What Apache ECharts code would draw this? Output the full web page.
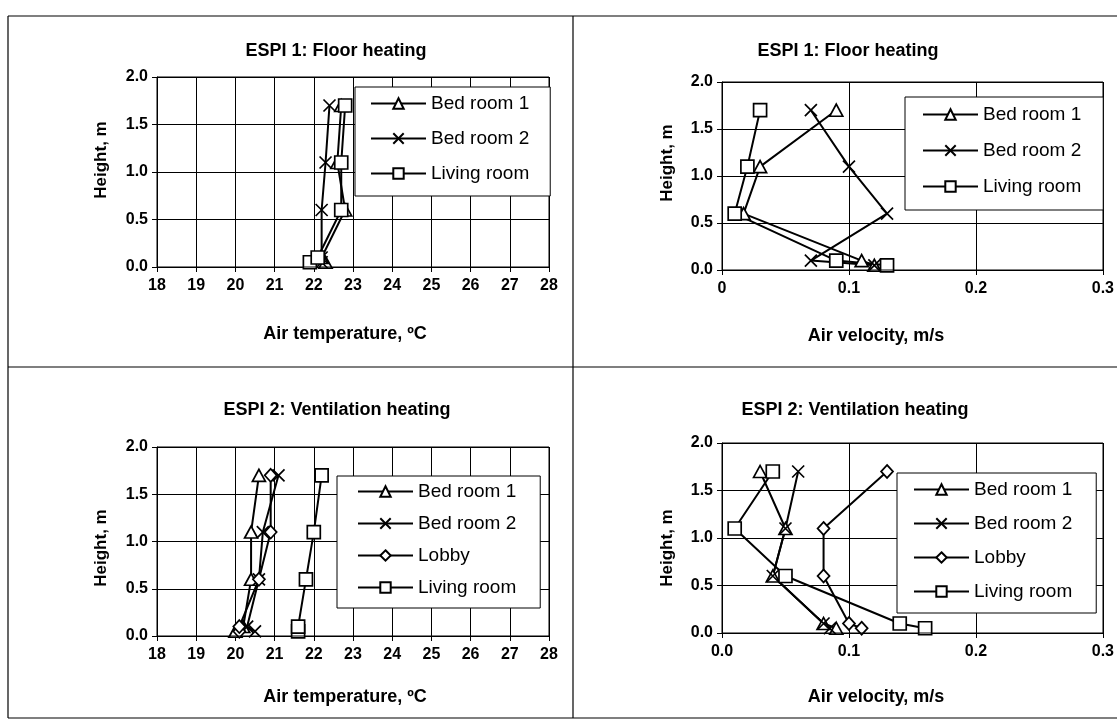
<!DOCTYPE html>
<html>
<head>
<meta charset="utf-8">
<script src="https://cdn.jsdelivr.net/npm/echarts@6/dist/echarts.min.js"></script>
<style>
html,body{margin:0;padding:0;background:#fff;}
#c{width:1117px;height:724px;}
</style>
</head>
<body>
<div id="c"></div>
<script>
// Heights (m) of measurement points
const heights = [0.05, 0.1, 0.6, 1.1, 1.7];

// ESPI 1: Floor heating, air temperature (°C)
const t1Bed1 = [22.3, 22.2, 22.8, 22.6, 22.7];
const t1Bed2 = [22.2, 22.2, 22.2, 22.3, 22.4];
const t1Living = [21.9, 22.1, 22.7, 22.7, 22.8];

// ESPI 1: Floor heating, air velocity (m/s)
const v1Bed1 = [0.12, 0.11, 0.017, 0.03, 0.09];
const v1Bed2 = [0.12, 0.07, 0.13, 0.10, 0.07];
const v1Living = [0.13, 0.09, 0.01, 0.02, 0.03];

// ESPI 2: Ventilation heating, air temperature (°C)
const t2Bed1 = [20.0, 20.2, 20.4, 20.4, 20.6];
const t2Bed2 = [20.5, 20.3, 20.6, 20.7, 21.1];
const t2Lobby = [20.1, 20.1, 20.6, 20.9, 20.9];
const t2Living = [21.6, 21.6, 21.8, 22.0, 22.2];

// ESPI 2: Ventilation heating, air velocity (m/s)
const v2Bed1 = [0.09, 0.08, 0.04, 0.05, 0.03];
const v2Bed2 = [0.085, 0.08, 0.04, 0.05, 0.06];
const v2Lobby = [0.11, 0.10, 0.08, 0.08, 0.13];
const v2Living = [0.16, 0.14, 0.05, 0.01, 0.04];

const titles = ['ESPI 1: Floor heating', 'ESPI 1: Floor heating', 'ESPI 2: Ventilation heating', 'ESPI 2: Ventilation heating'];
const xNames = ['Air temperature, \u00baC', 'Air velocity, m/s', 'Air temperature, \u00baC', 'Air velocity, m/s'];
const yName = 'Height, m';

const FONT = '"Liberation Sans", Arial, sans-serif';
const crossPath = 'path://M0,0L10,10M10,0L0,10';
const symbols = {
  'Bed room 1': 'triangle',
  'Bed room 2': crossPath,
  'Lobby': 'diamond',
  'Living room': 'rect'
};
const symSize = {
  'Bed room 1': [13, 12],
  'Bed room 2': [12, 12],
  'Lobby': [12, 13],
  'Living room': [13, 13]
};

const panels = [
  {series: [['Bed room 1', t1Bed1], ['Bed room 2', t1Bed2], ['Living room', t1Living]]},
  {series: [['Bed room 1', v1Bed1], ['Bed room 2', v1Bed2], ['Living room', v1Living]]},
  {series: [['Bed room 1', t2Bed1], ['Bed room 2', t2Bed2], ['Lobby', t2Lobby], ['Living room', t2Living]]},
  {series: [['Bed room 1', v2Bed1], ['Bed room 2', v2Bed2], ['Lobby', v2Lobby], ['Living room', v2Living]]}
];

const grids = [
  {left: 157, top: 77, width: 392, height: 190},
  {left: 722, top: 82, width: 381, height: 188},
  {left: 157, top: 447, width: 392, height: 189},
  {left: 722, top: 443, width: 381, height: 190}
];

const xAxisCfg = [
  {min: 18, max: 28, interval: 1, fmt: v => String(v)},
  {min: 0, max: 0.3, interval: 0.1, fmt: v => (v === 0 ? '0' : v.toFixed(1))},
  {min: 18, max: 28, interval: 1, fmt: v => String(v)},
  {min: 0, max: 0.3, interval: 0.1, fmt: v => v.toFixed(1)}
];

const legendPos = [
  {left: 355, top: 87, pad: [7, 21, 13, 15], gap: 16},
  {left: 905, top: 97, pad: [8, 22, 14, 17], gap: 17},
  {left: 337, top: 476, pad: [6, 24, 11, 20], gap: 13},
  {left: 897, top: 473, pad: [7, 24, 12, 16], gap: 15}
];

const titlePos = [
  {x: 336, y: 42}, {x: 848, y: 42}, {x: 337, y: 401}, {x: 855, y: 401}
];
const xNamePos = [
  {x: 345, y: 334}, {x: 876, y: 336}, {x: 345, y: 697}, {x: 876, y: 697}
];
const yNamePos = [
  {x: 101, y: 160}, {x: 667, y: 163}, {x: 101, y: 548}, {x: 667, y: 548}
];

const option = {
  animation: false,
  backgroundColor: '#fff',
  textStyle: {fontFamily: FONT, color: '#000'},
  title: [],
  grid: [],
  xAxis: [],
  yAxis: [],
  legend: [],
  series: [],
  graphic: []
};

panels.forEach((p, i) => {
  const g = grids[i];
  option.grid.push(Object.assign({containLabel: false, show: false}, g));
  const xc = xAxisCfg[i];
  option.xAxis.push({
    type: 'value', gridIndex: i, min: xc.min, max: xc.max, interval: xc.interval,
    axisLine: {show: true, lineStyle: {color: '#000', width: 1}},
    axisTick: {show: true, inside: false, length: 5, lineStyle: {color: '#000'}},
    axisLabel: {fontFamily: FONT, fontSize: 16, fontWeight: 'bold', color: '#000', margin: 11, formatter: xc.fmt, showMaxLabel: true},
    splitLine: {show: true, lineStyle: {color: '#000', width: 1}}
  });
  option.yAxis.push({
    type: 'value', gridIndex: i, min: 0, max: 2, interval: 0.5,
    axisLine: {show: true, lineStyle: {color: '#000', width: 1}},
    axisTick: {show: true, inside: false, length: 5, lineStyle: {color: '#000'}},
    axisLabel: {fontFamily: FONT, fontSize: 16, fontWeight: 'bold', color: '#000', margin: 9, formatter: v => v.toFixed(1)},
    splitLine: {show: true, lineStyle: {color: '#000', width: 1}}
  });
  option.graphic.push({
    type: 'rect', shape: {x: g.left, y: g.top, width: g.width, height: g.height},
    style: {fill: 'none', stroke: '#000', lineWidth: 1}, silent: true, z: 5
  });
  const tp = titlePos[i];
  option.title.push({
    text: titles[i], left: tp.x, top: tp.y, textAlign: 'center',
    padding: 0,
    textStyle: {fontFamily: FONT, fontWeight: 'bold', fontSize: 18, color: '#000'}
  });
  const xn = xNamePos[i];
  option.graphic.push({
    type: 'text', x: xn.x, y: xn.y, silent: true,
    style: {text: xNames[i], align: 'center', verticalAlign: 'middle',
      font: 'bold 18px ' + FONT, fill: '#000'}
  });
  const yn = yNamePos[i];
  option.graphic.push({
    type: 'text', x: yn.x, y: yn.y, rotation: Math.PI / 2, silent: true,
    style: {text: yName, align: 'center', verticalAlign: 'middle',
      font: 'bold 17px ' + FONT, fill: '#000'}
  });
  const names = [];
  p.series.forEach(([name, vals]) => {
    const id = 'p' + i + '_' + name;
    names.push(id);
    option.series.push({
      id: id,
      name: id,
      type: 'line',
      xAxisIndex: i, yAxisIndex: i,
      data: vals.map((v, k) => [v, heights[k]]),
      symbol: symbols[name],
      symbolSize: symSize[name],
      showAllSymbol: true,
      lineStyle: {color: '#000', width: 2},
      itemStyle: {color: '#fff', borderColor: '#000', borderWidth: 1.7},
      z: 3
    });
  });
  const lp = legendPos[i];
  option.legend.push({
    data: names,
    orient: 'vertical',
    left: lp.left, top: lp.top,
    padding: lp.pad,
    itemGap: lp.gap,
    itemWidth: 55, itemHeight: 13,
    backgroundColor: '#fff',
    borderColor: '#000', borderWidth: 1,
    formatter: n => n.split('_')[1],
    textStyle: {fontFamily: FONT, fontSize: 19, color: '#000'},
    selectedMode: false,
    z: 10
  });
});

// panel frame lines
const frame = [
  [8, 16, 1117, 16], [8, 367, 1117, 367], [8, 718, 1117, 718],
  [8, 16, 8, 718], [573, 16, 573, 718]
];
frame.forEach(f => option.graphic.push({
  type: 'line', shape: {x1: f[0], y1: f[1], x2: f[2], y2: f[3]},
  style: {stroke: '#000', lineWidth: 1.2}, silent: true
}));

const chart = echarts.init(document.getElementById('c'), null, {renderer: 'canvas'});
chart.setOption(option);
</script>
</body>
</html>
